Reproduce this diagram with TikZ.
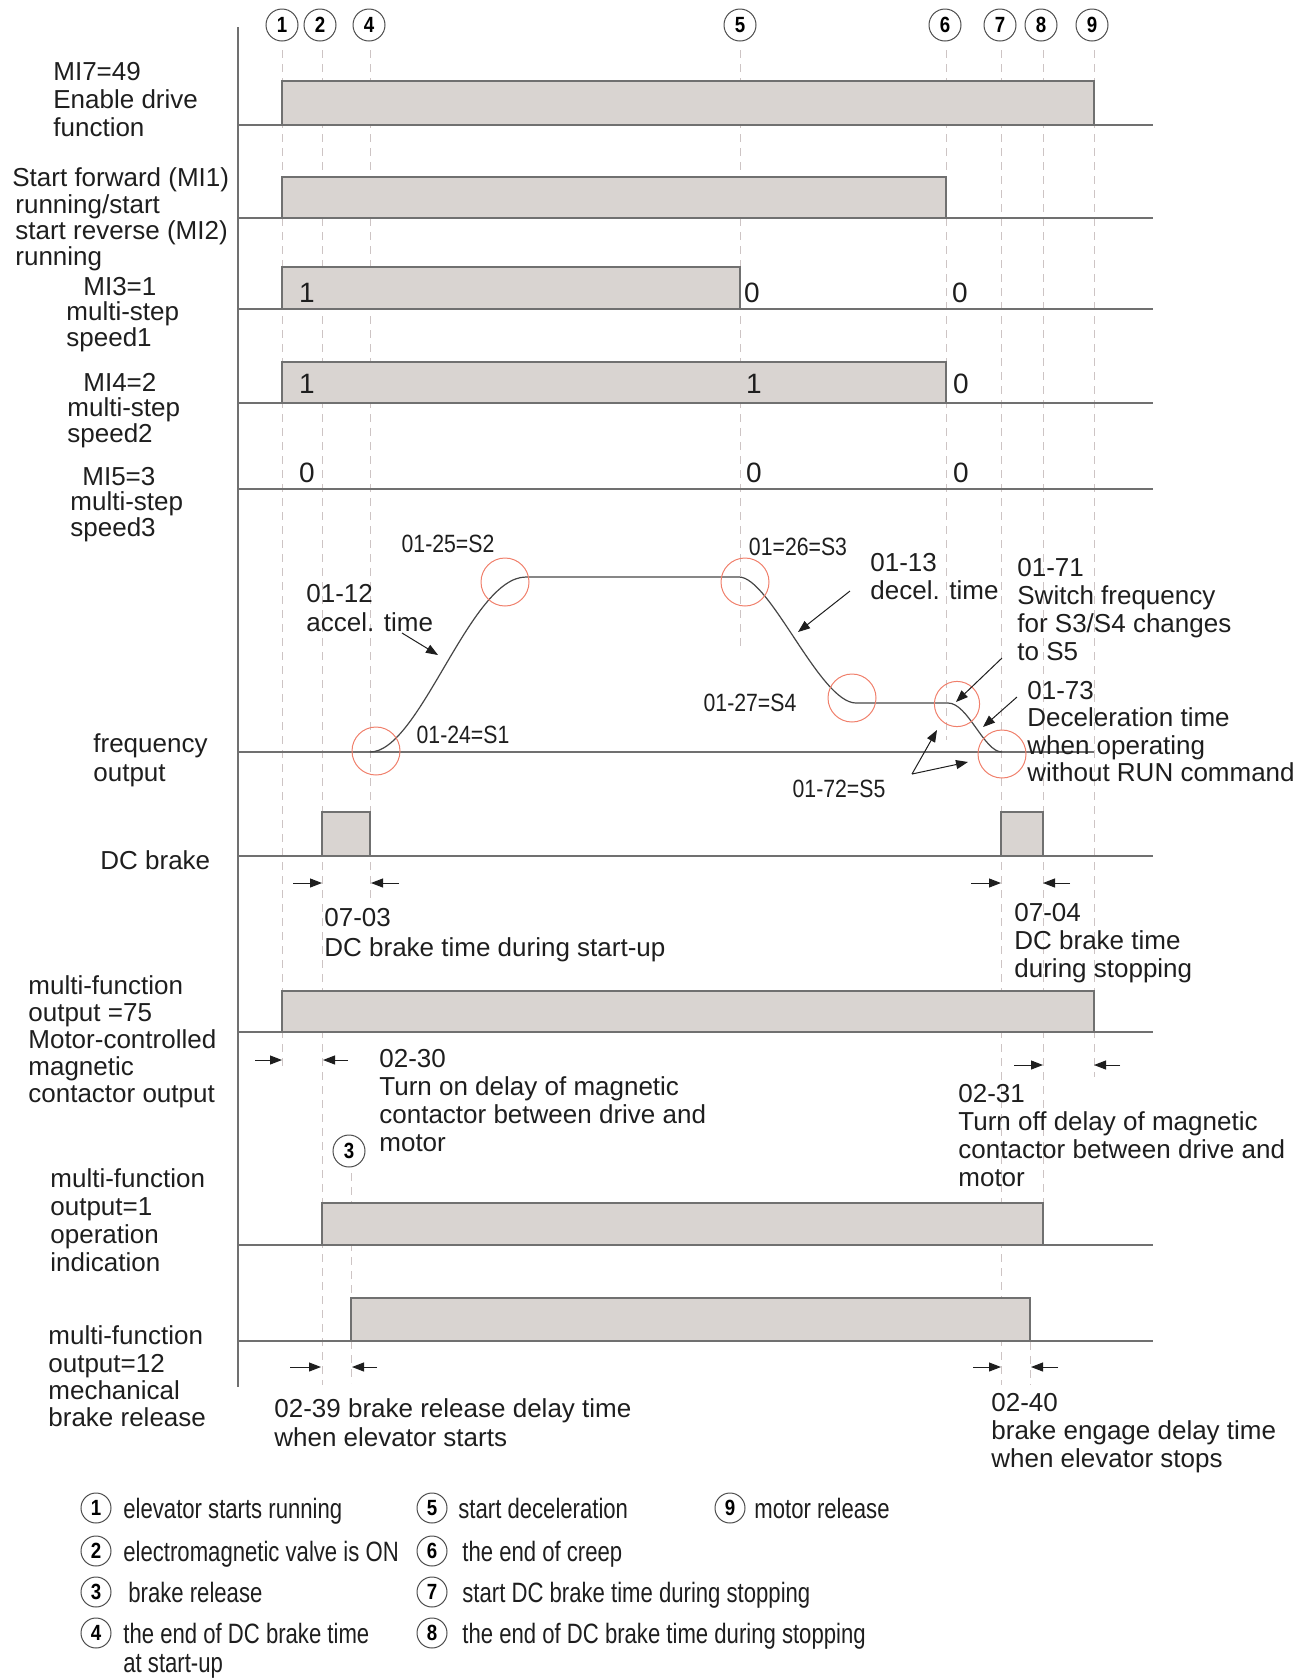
\documentclass[tikz,border=0pt]{standalone}
\usepackage{fontspec}
\setmainfont{Liberation Sans}
\newfontfamily\narrowfont{Liberation Sans}[FakeStretch=0.85]
\newfontfamily\keyfont{Liberation Sans}[FakeStretch=0.79]
\usetikzlibrary{arrows.meta}
\definecolor{barfill}{RGB}{217,212,209}
\definecolor{barline}{RGB}{112,112,112}
\definecolor{guidecol}{RGB}{205,196,196}
\definecolor{ringcol}{RGB}{240,128,108}
\definecolor{curvecol}{RGB}{70,70,70}
\definecolor{inkcol}{RGB}{30,30,30}

\begin{document}
\begin{tikzpicture}[x=0.5pt, y=-0.5pt,
    bar/.style={draw=barline, fill=barfill, line width=0.6pt},
    base/.style={draw=barline, line width=0.7pt},
    guide/.style={draw=guidecol, dash pattern=on 4pt off 3pt, line width=0.5pt},
    ring/.style={draw=ringcol, line width=0.5pt},
    freqline/.style={draw=curvecol, line width=0.6pt},
    lbl/.style={align=left, inner sep=0pt, anchor=north west, text=inkcol,
        font=\fontsize{13}{14}\selectfont},
    tag/.style={inner sep=0pt, text=inkcol, font=\narrowfont\fontsize{12.5}{14}\selectfont},
    val/.style={inner sep=0pt, text=inkcol, font=\fontsize{14}{14}\selectfont},
    num/.style={circle, draw=black!70, line width=0.5pt, minimum size=16pt, inner sep=0pt,
        font=\narrowfont\bfseries\fontsize{11}{11}\selectfont},
    key/.style={inner sep=0pt, anchor=base west, text=inkcol, font=\keyfont\fontsize{14}{14}\selectfont},
    dim/.style={-{Triangle[length=6pt,width=4.5pt]}, line width=0.5pt, draw=inkcol},
  ]
\useasboundingbox (0,0) rectangle (1314,1678);

% event guides
\foreach \x/\ya/\yb in {282/50/1070, 322/50/1385, 370/50/898, 740/50/650,
    946/50/740, 1001/50/1385, 1043/50/1202, 1094/50/1077, 351/1173/1383, 1030/1342/1385}
    \draw[guide] (\x,\ya) -- (\x,\yb);

% time axis and signal lines
\draw[base] (238,27) -- (238,1387);
\foreach \y in {125,218,309,403,489,856,1032,1245,1341}
    \draw[base] (238,\y) -- (1153,\y);
\draw[base] (238,752) -- (1094,752);

% signal bars
\draw[bar] (282,81) rectangle (1094,125);
\draw[bar] (282,177) rectangle (946,218);
\draw[bar] (282,267) rectangle (740,309);
\draw[bar] (282,362) rectangle (946,403);
\draw[bar] (322,812) rectangle (370,856);
\draw[bar] (1001,812) rectangle (1043,856);
\draw[bar] (282,991) rectangle (1094,1032);
\draw[bar] (322,1203) rectangle (1043,1245);
\draw[bar] (351,1298) rectangle (1030,1341);

% event numbers
\foreach \n/\x in {1/282, 2/320, 4/369, 5/740, 6/945, 7/1000, 8/1041, 9/1092}
    \node[num] (ev\n) at (\x,25) {\n};
\node[num] (ev3) at (349,1151) {3};

% multi-step levels
\node[val] (v31) at (307,293) {1};
\node[val] (v32) at (752,293) {0};
\node[val] (v33) at (960,293) {0};
\node[val] (v41) at (307,384) {1};
\node[val] (v42) at (754,384) {1};
\node[val] (v43) at (961,384) {0};
\node[val] (v51) at (307,473) {0};
\node[val] (v52) at (754,473) {0};
\node[val] (v53) at (961,473) {0};

% frequency output
\draw[freqline] (370,752) .. controls (420,752) and (470,577) .. (526,577) -- (739,577)
    .. controls (770,577) and (820,703) .. (856,703) -- (948,703)
    .. controls (968,703) and (984,752) .. (1002,752);
\foreach \x/\y in {376/751, 505/582, 745/582, 852/698, 1002/754}
    \draw[ring] (\x,\y) circle[radius=12pt];
\draw[ring] (957,704) circle[radius=11.3pt];

\node[tag] (s2) at (448,544) {01-25=S2};
\node[tag] (s1) at (463,735) {01-24=S1};
\node[tag] (s3) at (798,547) {01=26=S3};
\node[tag] (s4) at (750,703) {01-27=S4};
\node[tag] (s5) at (839,789) {01-72=S5};

\node[lbl, font=\fontsize{13}{14.5}\selectfont] (accel) at (306,583.5) {01-12\\accel. time};
\node[lbl] (decel) at (870,552.5) {01-13\\decel. time};
\node[lbl] (swfreq) at (1017,557.5) {01-71\\Switch frequency\\for S3/S4 changes\\to S5};
\node[lbl, font=\fontsize{13}{13.8}\selectfont] (norun) at (1027,680.5)
    {01-73\\Deceleration time\\when operating\\without RUN command};

\draw[dim] (402,633) -- (438,655);
\draw[dim] (850,591) -- (798,632);
\draw[dim] (1002,658) -- (956,702);
\draw[dim] (1017,697) -- (983,727);
\draw[dim] (912,774) -- (937,730);
\draw[dim] (912,774) -- (968,762);

% delay marks
\draw[dim] (293,883) -- (322,883);
\draw[dim] (399,883) -- (371,883);
\draw[dim] (971,883) -- (1001,883);
\draw[dim] (1070,883) -- (1043,883);
\draw[dim] (255,1060) -- (282,1060);
\draw[dim] (348,1060) -- (323,1060);
\draw[dim] (1014,1065) -- (1043,1065);
\draw[dim] (1120,1065) -- (1094,1065);
\draw[dim] (290,1367) -- (321,1367);
\draw[dim] (377,1367) -- (352,1367);
\draw[dim] (973,1367) -- (1001,1367);
\draw[dim] (1058,1367) -- (1031,1367);

\node[lbl, font=\fontsize{13}{15}\selectfont] (dcup) at (324,907.5) {07-03\\DC brake time during start-up};
\node[lbl] (dcdown) at (1014,902.5) {07-04\\DC brake time\\during stopping};
\node[lbl] (mcon) at (379,1048.5) {02-30\\Turn on delay of magnetic\\contactor between drive and\\motor};
\node[lbl] (mcoff) at (958,1083.5) {02-31\\Turn off delay of magnetic\\contactor between drive and\\motor};
\node[lbl, font=\fontsize{13}{14.5}\selectfont] (brel) at (274,1398.5) {02-39 brake release delay time\\when elevator starts};
\node[lbl] (beng) at (991,1392.5) {02-40\\brake engage delay time\\when elevator stops};

% signal names
\node[lbl] (enable) at (53,61.5) {MI7=49\\Enable drive\\function};
\node[lbl, font=\fontsize{13}{13.2}\selectfont] (runcmd) at (12,167.5)
    {Start forward (MI1)\\\hspace*{1.5pt}running/start\\\hspace*{1.5pt}start reverse (MI2)\\\hspace*{1.5pt}running};
\node[lbl, font=\fontsize{13}{12.8}\selectfont] (step1) at (66,276.5) {\hspace*{8.5pt}MI3=1\\multi-step\\speed1};
\node[lbl, font=\fontsize{13}{12.8}\selectfont] (step2) at (67,372.5) {\hspace*{8pt}MI4=2\\multi-step\\speed2};
\node[lbl, font=\fontsize{13}{12.8}\selectfont] (step3) at (70,466.5) {\hspace*{6pt}MI5=3\\multi-step\\speed3};
\node[lbl, font=\fontsize{13}{14.5}\selectfont] (freq) at (93,733.5) {frequency\\output};
\node[lbl] (dcb) at (100,850.5) {DC brake};
\node[lbl, font=\fontsize{13}{13.5}\selectfont] (mf75) at (28,975.5)
    {multi-function\\output =75\\Motor-controlled\\magnetic\\contactor output};
\node[lbl] (mf1) at (50,1168.5) {multi-function\\output=1\\operation\\indication};
\node[lbl, font=\fontsize{13}{13.7}\selectfont] (mf12) at (48,1325.5)
    {multi-function\\output=12\\mechanical\\brake release};

% key
\foreach \n/\x/\y in {1/96/1508, 2/96/1551, 3/96/1592, 4/96/1633,
    5/432/1508, 6/432/1551, 7/432/1592, 8/432/1633, 9/730/1508}
    \node[num, minimum size=15pt] (k\n) at (\x,\y) {\n};
\node[key] (t1) at (123,1518) {elevator starts running};
\node[key] (t2) at (123,1561) {electromagnetic valve is ON};
\node[key] (t3) at (128,1602) {brake release};
\node[key] (t4) at (123,1643) {the end of DC brake time};
\node[key] (t4b) at (123,1672) {at start-up};
\node[key] (t5) at (458,1518) {start deceleration};
\node[key] (t6) at (462,1561) {the end of creep};
\node[key] (t7) at (462,1602) {start DC brake time during stopping};
\node[key] (t8) at (462,1643) {the end of DC brake time during stopping};
\node[key] (t9) at (754,1518) {motor release};
\end{tikzpicture}
\end{document}
